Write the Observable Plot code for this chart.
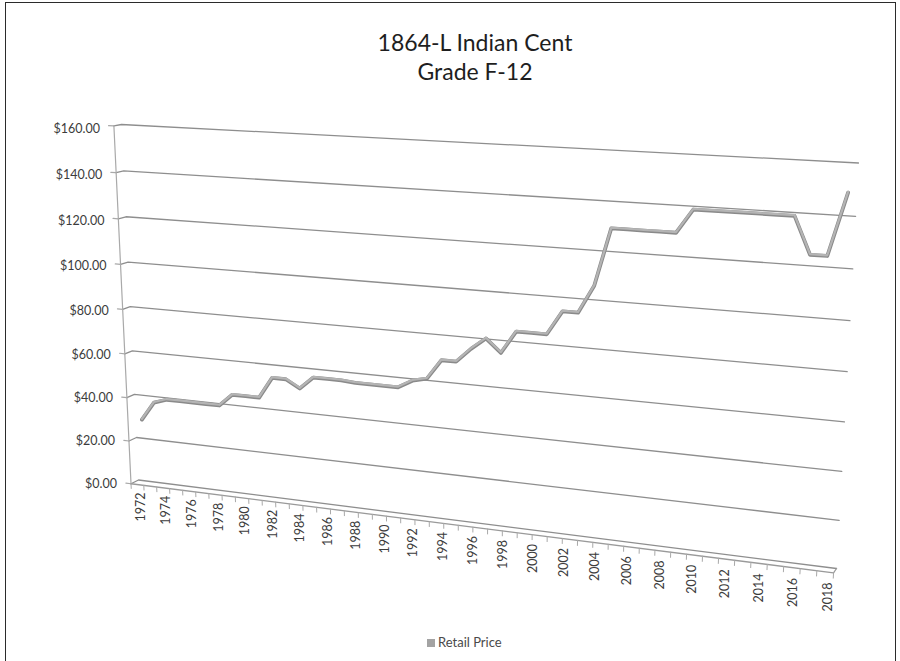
<!DOCTYPE html>
<html>
<head>
<meta charset="utf-8">
<script src="https://cdn.jsdelivr.net/npm/d3@7"></script>
<script src="https://cdn.jsdelivr.net/npm/@observablehq/plot@0.6"></script>
<style>
  html, body { margin: 0; padding: 0; background: #fff; }
  body { width: 900px; height: 661px; position: relative; overflow: hidden; font-family: Lato, "Open Sans", sans-serif; }
  #frame { position: absolute; left: 5px; top: 2px; width: 891px; height: 720px; border: 1.5px solid #2b2b2b; box-sizing: border-box; }
  .layer { position: absolute; left: 0; top: 0; }
  #title { position: absolute; left: 275px; width: 400px; top: 28px; text-align: center; font-size: 23px; line-height: 28.5px; color: #1e1e1e; }
  #legend { position: absolute; left: 427px; top: 634px; font-size: 13px; color: #4a4a4a; white-space: nowrap; }
  #legend .sw { display: inline-block; width: 8px; height: 8px; background: #a3a3a3; margin-right: 3px; vertical-align: 0px; }
</style>
</head>
<body>
<div id="frame"></div>
<div id="chart" class="layer"></div>
<div id="labels" class="layer"></div>
<div id="title">1864-L Indian Cent<br>Grade F-12</div>
<div id="legend"><span class="sw"></span>Retail Price</div>
<script>
// ---- data ----
const years = [1972, 1973, 1974, 1975, 1976, 1977, 1978, 1979, 1980, 1981,
               1982, 1983, 1984, 1985, 1986, 1987, 1988, 1989, 1990, 1991,
               1992, 1993, 1994, 1995, 1996, 1997, 1998, 1999, 2000, 2001,
               2002, 2003, 2004, 2005, 2006, 2007, 2008, 2009, 2010, 2011,
               2012, 2013, 2014, 2015, 2016, 2017, 2018, 2019];
const prices = [29, 37.5, 39.5, 39.5, 39.5, 39.5, 39.5, 45, 45, 45,
                54.5, 54.5, 51, 56.5, 56.5, 56.5, 56, 56, 56, 56,
                59.5, 61, 69.5, 69.5, 75.5, 80.5, 75, 84.5, 84.5, 84.5,
                94.5, 94.5, 106, 129.5, 129.5, 129.5, 129.5, 129.5, 139, 139,
                139, 139, 139, 139, 139, 124.5, 124.5, 149];
const yTicks = [0, 20, 40, 60, 80, 100, 120, 140, 160];
const xLabels = [1972, 1974, 1976, 1978, 1980, 1982, 1984, 1986, 1988, 1990,
                 1992, 1994, 1996, 1998, 2000, 2002, 2004, 2006, 2008, 2010,
                 2012, 2014, 2016, 2018];
const seriesName = "Retail Price";

// ---- perspective (3-D wall) projection ----
const x0 = years[0] - 0.5, x1 = years[years.length - 1] + 0.5;
const yMax = 160;
const srcCorners = [[0, yMax], [x1 - x0, yMax], [x1 - x0, 0], [0, 0]];
const dstCorners = [[121, 124], [858, 162.5], [836, 568], [138, 479.5]];
const VP = [1290, -100];      // vanishing point of the depth direction
const depthT = 0.0065;

function solveLinear(A, b) {
  const n = b.length;
  for (let c = 0; c < n; c++) {
    let p = c;
    for (let r = c + 1; r < n; r++) if (Math.abs(A[r][c]) > Math.abs(A[p][c])) p = r;
    [A[c], A[p]] = [A[p], A[c]]; [b[c], b[p]] = [b[p], b[c]];
    for (let r = c + 1; r < n; r++) {
      const f = A[r][c] / A[c][c];
      for (let k = c; k < n; k++) A[r][k] -= f * A[c][k];
      b[r] -= f * b[c];
    }
  }
  const h = new Array(n);
  for (let r = n - 1; r >= 0; r--) {
    let s = b[r];
    for (let k = r + 1; k < n; k++) s -= A[r][k] * h[k];
    h[r] = s / A[r][r];
  }
  return h;
}
function solveHomography(src, dst) {
  const A = [], b = [];
  for (let i = 0; i < 4; i++) {
    const [x, y] = src[i], [u, v] = dst[i];
    A.push([x, y, 1, 0, 0, 0, -u * x, -u * y]); b.push(u);
    A.push([0, 0, 0, x, y, 1, -v * x, -v * y]); b.push(v);
  }
  return solveLinear(A, b);
}
const H = solveHomography(srcCorners, dstCorners);
function project(year, value, depth) {
  const X = year - x0, Y = value;
  const w = H[6] * X + H[7] * Y + 1;
  let px = (H[0] * X + H[1] * Y + H[2]) / w;
  let py = (H[3] * X + H[4] * Y + H[5]) / w;
  if (depth) { px += depth * depthT * (px - VP[0]); py += depth * depthT * (py - VP[1]); }
  return [px, py];
}
const wallProjection = d3.geoTransform({
  point(x, y, z) { const p = project(x, y, z || 0); this.stream.point(p[0], p[1]); }
});

// category-label row: 1-D perspective along the front of the floor
const labelAnchors = [[1972, 140], [1996, 472], [2018, 827.5]];
const labelRow = {x: 140, y: 492, slope: 0.131};
const L = solveLinear(
  labelAnchors.map(([yr, px]) => { const t = (yr - x0) / (x1 - x0); return [t, 1, -px * t]; }),
  labelAnchors.map(([, px]) => px)
);
const labelProjection = d3.geoTransform({
  point(year, k) {
    const t = (year - x0) / (x1 - x0);
    const px = (L[0] * t + L[1]) / (L[2] * t + 1);
    const py = labelRow.y + labelRow.slope * (px - labelRow.x) + k;
    this.stream.point(px, py);
  }
});

// ---- geometry built from the tick arrays ----
const line = (coords) => ({type: "Feature", geometry: {type: "LineString", coordinates: coords}});
const gridLines = yTicks.map(v => line([[x0, v, 1], [x0, v, 0], [x1, v, 0]]));
const yTickMarks = yTicks.map(v => line([[x0, v, 1], [x0 - 0.4, v, 1]]));
const boundaries = years.map(y => y - 0.5).concat([x1]);
const xTickMarks = boundaries.map(b => line([[b, 0, 1], [b, -2.2, 1]]));
const yAxisLine = [line([[x0, 0, 1], [x0, yMax, 1]])];
const floorEdge = [line([[x0, 0, 1], [x1, 0, 1], [x1, 0, 0]])];

const data = years.map((year, i) => ({year, price: prices[i], series: seriesName}));
const font = "Lato, 'Open Sans', sans-serif";

const chart = Plot.plot({
  width: 900,
  height: 661,
  margin: 0,
  projection: wallProjection,
  style: {fontFamily: font, background: "transparent", overflow: "visible"},
  marks: [
    Plot.geo(gridLines, {stroke: "#8e8e8e", strokeWidth: 1.3}),
    Plot.geo(yAxisLine, {stroke: "#a9a9a9", strokeWidth: 1.2}),
    Plot.geo(yTickMarks, {stroke: "#a9a9a9", strokeWidth: 1.2}),
    Plot.geo(floorEdge, {stroke: "#9a9a9a", strokeWidth: 1.3}),
    Plot.geo(xTickMarks, {stroke: "#a9a9a9", strokeWidth: 1}),
    Plot.line(data, {x: "year", y: "price", stroke: "#8a8a8a", strokeWidth: 3.8, dy: 0.7, strokeLinejoin: "round"}),
    Plot.line(data, {x: "year", y: "price", stroke: "#b4b4b4", strokeWidth: 2.2, strokeLinejoin: "round"}),
    Plot.text(yTicks, {x: () => x0, y: d => d, text: d => "$" + d.toFixed(2), textAnchor: "end", dx: -21.5, dy: 4, fontSize: 12.5, fill: "#3c3c3c"})
  ]
});
document.getElementById("chart").appendChild(chart);

const labels = Plot.plot({
  width: 900,
  height: 661,
  margin: 0,
  projection: labelProjection,
  style: {fontFamily: font, background: "transparent", overflow: "visible"},
  marks: [
    Plot.text(xLabels, {x: d => d, y: () => 0, text: d => String(d), rotate: -90, textAnchor: "end", fontSize: 12.5, fill: "#3c3c3c"})
  ]
});
document.getElementById("labels").appendChild(labels);
</script>
</body>
</html>
